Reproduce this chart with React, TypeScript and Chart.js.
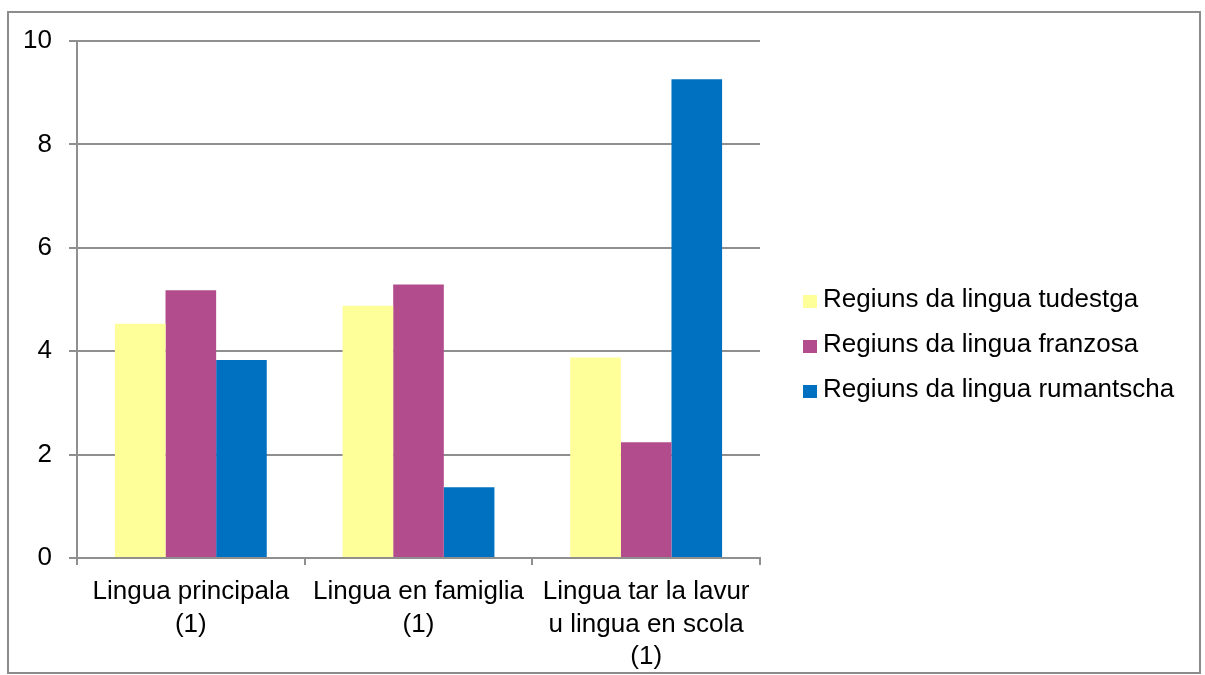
import React, { useEffect, useRef } from "react";
import { Chart, registerables } from "chart.js";

Chart.register(...registerables);

const categories: string[][] = [
  ["Lingua principala", "(1)"],
  ["Lingua en famiglia", "(1)"],
  ["Lingua tar la lavur", "u lingua en scola", "(1)"],
];
const seriesNames = [
  "Regiuns da lingua tudestga",
  "Regiuns da lingua franzosa",
  "Regiuns da lingua rumantscha",
];
const tudestga = [4.53, 4.88, 3.88];
const franzosa = [5.18, 5.29, 2.24];
const rumantscha = [3.83, 1.37, 9.26];
const seriesColors = ["#FFFF99", "#B24C8C", "#0070C0"];
const yMin = 0;
const yMax = 10;
const yStep = 2;

const FONT = "'Liberation Sans', Arial, sans-serif";
const GRID = "#8f8f8f";

const framePlugin = {
  id: "frame",
  afterDraw(chart: any) {
    const ctx = chart.ctx;
    ctx.save();
    ctx.strokeStyle = "#8c8c8c";
    ctx.lineWidth = 2;
    ctx.strokeRect(8, 12, 1192, 661);
    // legend
    const n = chart.data.datasets.length;
    const rowH = 45;
    const cy = 345;
    ctx.font = "26px " + FONT;
    ctx.textBaseline = "middle";
    ctx.textAlign = "left";
    chart.data.datasets.forEach((ds: any, i: number) => {
      const y = cy + (i - (n - 1) / 2) * rowH;
      ctx.fillStyle = ds.backgroundColor;
      ctx.fillRect(803, y - 5, 14, 13);
      ctx.fillStyle = "#000000";
      ctx.fillText(ds.label, 823, y);
    });
    ctx.restore();
  },
};

export default function App() {
  const ref = useRef<HTMLCanvasElement | null>(null);
  useEffect(() => {
    if (!ref.current) return;
    const chart = new Chart(ref.current, {
      type: "bar",
      data: {
        labels: categories,
        datasets: [tudestga, franzosa, rumantscha].map((d, i) => ({
          label: seriesNames[i],
          data: d,
          backgroundColor: seriesColors[i],
          borderWidth: 0,
          categoryPercentage: 0.667,
          barPercentage: 1,
        })),
      },
      options: {
        animation: false,
        responsive: false,
        maintainAspectRatio: false,
        layout: { padding: { left: 10, right: 445, top: 41, bottom: 0 } },
        plugins: { legend: { display: false }, tooltip: { enabled: false } },
        scales: {
          x: {
            afterFit: (s: any) => {
              s.height = 117;
            },
            grid: {
              drawOnChartArea: false,
              drawTicks: true,
              tickLength: 7,
              color: GRID,
              lineWidth: 2,
              offset: true,
            },
            border: { color: GRID, width: 2 },
            ticks: {
              color: "#000000",
              font: { family: FONT, size: 26, lineHeight: 1.25 },
              padding: 11,
              maxRotation: 0,
              autoSkip: false,
            },
          },
          y: {
            min: yMin,
            max: yMax,
            afterFit: (s: any) => {
              s.width = 67;
            },
            grid: {
              color: GRID,
              lineWidth: 2,
              drawTicks: true,
              tickLength: 8,
            },
            border: { color: GRID, width: 2 },
            ticks: {
              stepSize: yStep,
              color: "#000000",
              font: { family: FONT, size: 26 },
              padding: 17,
            },
          },
        },
      },
      plugins: [framePlugin],
    });
    return () => chart.destroy();
  }, []);
  return (
    <div style={{ position: "fixed", left: 0, top: 0, width: 1205, height: 675, background: "#fff" }}>
      <canvas ref={ref} width={1205} height={675} style={{ width: 1205, height: 675 }} />
    </div>
  );
}
